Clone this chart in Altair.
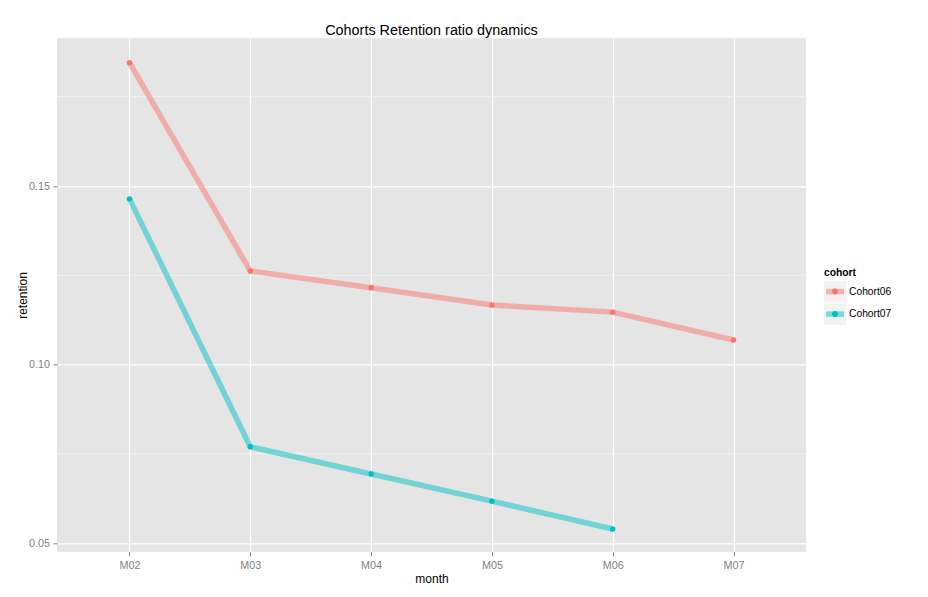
import altair as alt
import pandas as pd

# ---- data ----
months = ["M02", "M03", "M04", "M05", "M06", "M07"]
cohort06 = [0.1845, 0.1262, 0.1215, 0.1167, 0.1147, 0.1069]
cohort07 = [0.1464, 0.0770, 0.0694, 0.0618, 0.0540]
cohorts = ["Cohort06", "Cohort07"]
colors = ["#F8766D", "#00BFC4"]
major_ticks = [0.05, 0.10, 0.15]
minor_ticks = [0.075, 0.125, 0.175]

rows = []
for name, vals in zip(cohorts, [cohort06, cohort07]):
    for m, v in zip(months, vals):
        rows.append({"month": m, "retention": v, "cohort": name, "series": name, "box": name})
df = pd.DataFrame(rows)
minor_df = pd.DataFrame({"minor": minor_ticks})

FONT = "Liberation Sans"
# legend glyphs (unit square -1..1); extra move-to points keep equal bounds
BAR = "M-0.82,-0.25H0.82V0.25H-0.82ZM0,-1M0,1"
DOT = "M0.27,0A0.27,0.27,0,1,1,-0.27,0A0.27,0.27,0,1,1,0.27,0ZM0,-1M0,1"
BOX = "M-1,-0.98H1V0.98H-1ZM0,-1M0,1"

x = alt.X(
    "month:N",
    sort=months,
    scale=alt.Scale(type="point", padding=0.6, domain=months),
    axis=alt.Axis(
        title="month", labelAngle=0, labelPadding=4,
        titleY=30.6, titleBaseline="alphabetic",
    ),
)
y_scale = alt.Scale(domain=[0.04765, 0.19134], nice=False, zero=False)
y_axis = alt.Axis(
    values=major_ticks, format=".2f", title="retention", labelPadding=3.5,
    titleX=-31, titleY=256.7, titleBaseline="alphabetic", titleAngle=270,
)
y = alt.Y("retention:Q", scale=y_scale, axis=y_axis)

legend_common = dict(
    orient="none", legendX=767, legendY=230, title="cohort",
    titleFont=FONT, titleFontSize=10.3, titleFontWeight="bold", titleColor="black",
    titlePadding=2, labelFont=FONT, labelFontSize=10.3, labelColor="black",
    labelOffset=3, symbolSize=484, rowPadding=0.5, padding=0,
    symbolStrokeWidth=0,
)

minor = alt.Chart(minor_df).mark_rule(color="#F2F2F2", strokeWidth=1).encode(
    y=alt.Y("minor:Q", scale=y_scale, axis=y_axis)
)

# legend background boxes (invisible marks, visible legend)
boxes = alt.Chart(df).mark_point(filled=True, fill="#F2F2F2", opacity=0, size=30).encode(
    x=x, y=y,
    shape=alt.Shape(
        "box:N",
        scale=alt.Scale(range=[BOX, BOX]),
        legend=alt.Legend(
            symbolOpacity=1, symbolFillColor="#F2F2F2", zindex=0, **legend_common,
        ),
    ),
)

lines = alt.Chart(df).mark_line(strokeWidth=5.5, opacity=0.5).encode(
    x=x, y=y,
    stroke=alt.Stroke("cohort:N", scale=alt.Scale(range=colors), legend=None),
)

# legend bar glyphs (invisible marks)
bars = alt.Chart(df).mark_point(filled=True, opacity=0, size=30).encode(
    x=x, y=y,
    color=alt.Color(
        "cohort:N",
        scale=alt.Scale(range=colors),
        legend=alt.Legend(
            symbolType=BAR, symbolOpacity=0.5, labelOpacity=0, titleOpacity=0,
            zindex=1, **legend_common,
        ),
    ),
)

points = alt.Chart(df).mark_point(filled=True, size=30, opacity=1, shape="circle").encode(
    x=x, y=y,
    fill=alt.Fill(
        "series:N",
        scale=alt.Scale(range=colors),
        legend=alt.Legend(
            symbolType=DOT, symbolOpacity=1, labelOpacity=0, titleOpacity=0,
            zindex=2, **legend_common,
        ),
    ),
)

chart = (
    alt.layer(minor, boxes, lines, bars, points)
    .properties(
        width=749, height=513.4,
        autosize=alt.AutoSizeParams(type="none"),
        padding={"left": 49, "top": 30.3, "right": 100, "bottom": 38},
        background="white",
        title=alt.Title(
            "Cohorts Retention ratio dynamics", font=FONT, fontSize=14.4,
            fontWeight="normal", color="black", anchor="middle", frame="group",
            baseline="alphabetic", offset=3, dy=14,
        ),
    )
    .configure_view(fill="#E5E5E5", strokeWidth=0)
    .configure_axis(
        labelFont=FONT, labelFontSize=10.8, labelColor="#7F7F7F",
        tickColor="#7F7F7F", tickSize=4, tickWidth=1,
        domain=False, grid=True, gridColor="white", gridWidth=1.2,
        titleFont=FONT, titleFontSize=12, titleColor="black", titleFontWeight="normal",
    )
)

chart.save("out.html", embed_options={"renderer": "svg", "actions": False})
